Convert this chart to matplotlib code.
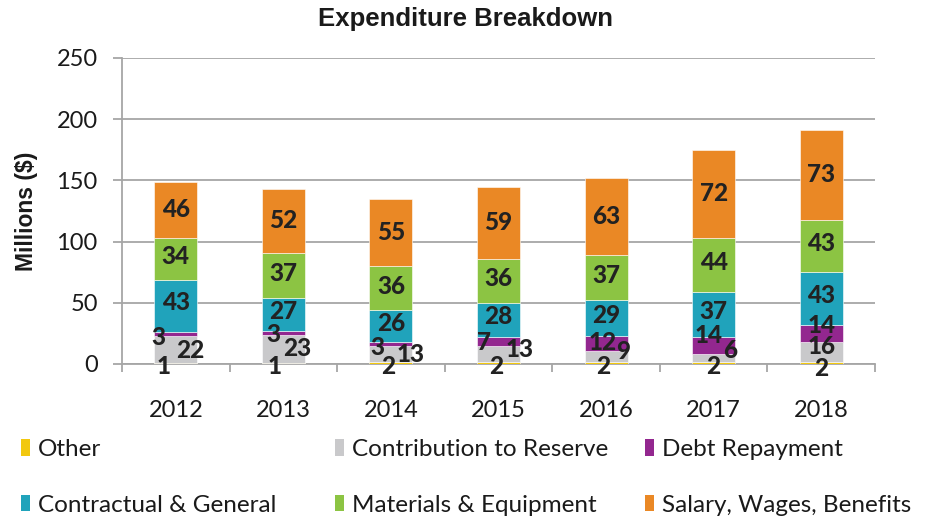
import matplotlib
matplotlib.use("Agg")
import matplotlib.pyplot as plt
import numpy as np
from matplotlib.patches import Patch

years = ["2012", "2013", "2014", "2015", "2016", "2017", "2018"]
other = [1, 1, 2, 2, 2, 2, 2]
reserve = [22, 23, 13, 13, 9, 6, 16]
debt = [3, 3, 3, 7, 12, 14, 14]
contractual = [43, 27, 26, 28, 29, 37, 43]
materials = [34, 37, 36, 36, 37, 44, 43]
salary = [46, 52, 55, 59, 63, 72, 73]

series_names = ["Other", "Contribution to Reserve", "Debt Repayment",
                "Contractual & General", "Materials & Equipment",
                "Salary, Wages, Benefits"]
series_vals = [other, reserve, debt, contractual, materials, salary]
colors = ["#f2c80f", "#c9c9cb", "#93278f", "#20a3bb", "#8cc443", "#ea8825"]

# label offsets in pixels (dx, dy) relative to segment centre
lab_dx = [
    [-12, -9, -3, -2, -3, 0, 0],
    [14, 14, 20, 21, 17, 17, 0],
    [-17, -10, -14, -14, -3, -5, 0],
    [0] * 7, [0] * 7, [0] * 7,
]
lab_dy = [
    [-3, -3, -4, -4, -4, -4, -6],
    [-1, 0, -1, 4, 5, 7, 5],
    [-3, -2, -4, -1, 1, 10, 8],
    [3] * 7, [2] * 7, [0] * 7,
]

fig = plt.figure(figsize=(9.36, 5.18), dpi=100)
ax = fig.add_axes([122 / 936, 1 - 364 / 518, (875 - 122) / 936, (364 - 58) / 518])

x = np.arange(len(years))
bottom = np.zeros(len(years))
label_color = "#222222"
for i, (name, vals) in enumerate(zip(series_names, series_vals)):
    v = np.array(vals, dtype=float)
    ax.bar(x, v, width=0.4, bottom=bottom, color=colors[i], edgecolor="white",
           linewidth=0.4, label=name, zorder=3)
    for j in range(len(years)):
        cy = bottom[j] + v[j] / 2
        ax.annotate(str(vals[j]), (x[j], cy), xytext=(lab_dx[i][j], lab_dy[i][j]),
                    textcoords="offset pixels", ha="center", va="center",
                    fontsize=17.5, fontweight="black", family="Lato",
                    color=label_color, zorder=5, annotation_clip=False)
    bottom += v

ax.set_xlim(-0.5, len(years) - 0.5)
ax.set_ylim(0, 250)
ax.set_yticks(np.arange(0, 251, 50))
ax.yaxis.grid(True, color="#a6a6a6", linewidth=1.3, zorder=0)
ax.set_axisbelow(True)
for s in ["top", "right"]:
    ax.spines[s].set_visible(False)
for s in ["left", "bottom"]:
    ax.spines[s].set_color("#a6a6a6")
    ax.spines[s].set_linewidth(1.3)

ax.set_xticks(x)
ax.set_xticklabels(years)
ax.set_xticks(np.arange(-0.5, len(years), 1.0), minor=True)
ax.tick_params(axis="x", which="major", length=0, pad=26, labelsize=17,
               labelcolor="#1a1a1a")
ax.tick_params(axis="x", which="minor", length=6, width=1.3, color="#a6a6a6")
ax.tick_params(axis="y", length=6.5, width=1.3, color="#a6a6a6", pad=11,
               labelsize=17, labelcolor="#1a1a1a")
for lab in ax.get_xticklabels() + ax.get_yticklabels():
    lab.set_family("Lato")

ax.set_ylabel("Millions ($)", fontsize=16.5, fontweight="bold",
              family="Liberation Sans", color="#1a1a1a")
ax.yaxis.set_label_coords(-0.111, 0.5)

fig.text(465 / 936, 1 - 19 / 518, "Expenditure Breakdown", ha="center",
         va="center", fontsize=18.5, fontweight="bold", family="Liberation Sans",
         color="#1a1a1a")

# legend in three columns
col_x = [21 / 936, 335 / 936, 645 / 936]
for c in range(3):
    idxs = [c, c + 3]
    handles = [Patch(facecolor=colors[k], edgecolor="none") for k in idxs]
    labels = [series_names[k] for k in idxs]
    leg = fig.legend(handles, labels, loc="upper left",
                     bbox_to_anchor=(col_x[c], 1 - 439 / 518), frameon=False,
                     prop={"family": "Lato", "size": 17.5},
                     handlelength=0.35, handleheight=0.65, handletextpad=0.35,
                     labelspacing=1.42, borderaxespad=0, borderpad=0)
    for t in leg.get_texts():
        t.set_color("#1a1a1a")

fig.savefig("out.png", dpi=100)
